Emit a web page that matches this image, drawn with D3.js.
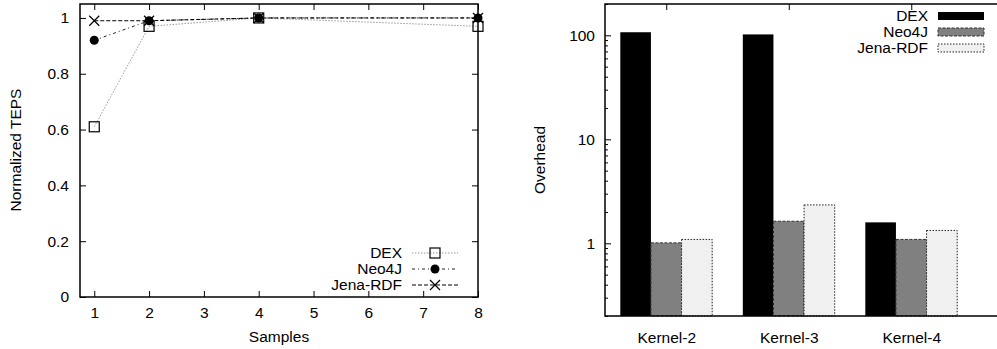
<!DOCTYPE html>
<html>
<head>
<meta charset="utf-8">
<script src="https://cdn.jsdelivr.net/npm/d3@7"></script>
<style>
  body { margin: 0; background: #fff; }
  svg { display: block; font-family: "Liberation Sans", Arial, sans-serif; }
</style>
</head>
<body>
<svg id="chart" width="997" height="349"></svg>
<script>
// left chart data
const samples = [1, 2, 4, 8];
const dexTeps = [0.61, 0.97, 1.0, 0.97];
const neoTeps = [0.92, 0.99, 1.0, 1.0];
const jenaTeps = [0.99, 0.99, 1.0, 1.0];
const xTicksLeft = [1, 2, 3, 4, 5, 6, 7, 8];
const yTicksLeft = [0, 0.2, 0.4, 0.6, 0.8, 1];

// right chart data
const kernels = ['Kernel-2', 'Kernel-3', 'Kernel-4'];
const dexOverhead = [107, 102, 1.59];
const neoOverhead = [1.01, 1.63, 1.09];
const jenaOverhead = [1.09, 2.34, 1.33];
const yTicksRight = [1, 10, 100];

const svg = d3.select('#chart');
const fontSize = '15.5px';

// ---------- left chart ----------
const x1 = d3.scaleLinear().domain([0.74, 8]).range([80, 478]);
const y1 = d3.scaleLinear().domain([0, 1.05]).range([297, 4]);

const left = svg.append('g');

// ticks (inward, mirrored)
left.append('g').attr('transform', 'translate(0,297)')
    .call(d3.axisBottom(x1).tickValues(xTicksLeft).tickSize(-6).tickPadding(10).tickFormat(d3.format('d')))
    .call(g => g.select('.domain').remove());
left.append('g').attr('transform', 'translate(0,4)')
    .call(d3.axisTop(x1).tickValues(xTicksLeft).tickSize(-6).tickFormat(''))
    .call(g => g.select('.domain').remove());
left.append('g').attr('transform', 'translate(80,0)')
    .call(d3.axisLeft(y1).tickValues(yTicksLeft).tickSize(-6).tickPadding(11).tickFormat(d => d))
    .call(g => g.select('.domain').remove());
left.append('g').attr('transform', 'translate(478,0)')
    .call(d3.axisRight(y1).tickValues(yTicksLeft).tickSize(-6).tickFormat(''))
    .call(g => g.select('.domain').remove());
left.selectAll('.tick text').attr('font-size', fontSize).attr('font-family', '"Liberation Sans", Arial, sans-serif').attr('fill', '#000');
left.selectAll('.tick line').attr('stroke', '#000');

left.append('rect').attr('x', 80).attr('y', 4).attr('width', 398).attr('height', 293)
    .attr('fill', 'none').attr('stroke', '#000').attr('stroke-width', 1.5);

const series = [
  { name: 'DEX', values: dexTeps, color: '#999', dash: '1.5,1.5', marker: 'square' },
  { name: 'Neo4J', values: neoTeps, color: '#222', dash: '3,3,1,3', marker: 'circle' },
  { name: 'Jena-RDF', values: jenaTeps, color: '#000', dash: '4,2', marker: 'cross' }
];

function drawMarker(g, type, cx, cy) {
  if (type === 'square') {
    g.append('rect').attr('x', cx - 5).attr('y', cy - 5).attr('width', 10).attr('height', 10)
      .attr('fill', '#fff').attr('fill-opacity', 0).attr('stroke', '#000').attr('stroke-width', 1.2);
  } else if (type === 'circle') {
    g.append('circle').attr('cx', cx).attr('cy', cy).attr('r', 4.5).attr('fill', '#000');
  } else {
    g.append('path').attr('d', `M${cx - 5},${cy - 5}L${cx + 5},${cy + 5}M${cx - 5},${cy + 5}L${cx + 5},${cy - 5}`)
      .attr('stroke', '#000').attr('stroke-width', 1.2);
  }
}

const line = d3.line().x(d => x1(d[0])).y(d => y1(d[1]));
series.forEach(s => {
  const pts = samples.map((v, i) => [v, s.values[i]]);
  left.append('path').attr('d', line(pts)).attr('fill', 'none')
    .attr('stroke', s.color).attr('stroke-width', 1).attr('stroke-dasharray', s.dash);
  pts.forEach(p => drawMarker(left, s.marker, x1(p[0]), y1(p[1])));
});

// left legend
series.forEach((s, i) => {
  const yy = 253 + i * 16;
  left.append('text').attr('x', 402).attr('y', yy).attr('dy', '0.35em').attr('text-anchor', 'end')
    .attr('font-size', fontSize).text(s.name);
  left.append('line').attr('x1', 412).attr('x2', 458).attr('y1', yy).attr('y2', yy)
    .attr('stroke', s.color).attr('stroke-width', 1).attr('stroke-dasharray', s.dash);
  drawMarker(left, s.marker, 435, yy);
});

left.append('text').attr('x', 279).attr('y', 337).attr('dy', '0.35em').attr('text-anchor', 'middle')
  .attr('font-size', fontSize).text('Samples');
left.append('text').attr('transform', 'translate(16,150) rotate(-90)').attr('dy', '0.35em')
  .attr('text-anchor', 'middle').attr('font-size', fontSize).text('Normalized TEPS');

// ---------- right chart ----------
const x2 = d3.scaleLinear().domain([-0.5, 2.7]).range([605, 997]);
const y2 = d3.scaleLog().domain([0.2, 200]).range([316, 4]);
const bw = (x2(1) - x2(0)) * 0.25;

const right = svg.append('g');

const minorTicks = y2.ticks().filter(d => !yTicksRight.includes(d));
right.append('g').attr('transform', 'translate(605,0)')
    .call(d3.axisLeft(y2).tickValues(yTicksRight).tickSize(-6).tickPadding(10).tickFormat(d3.format('d')))
    .call(g => g.select('.domain').remove());
right.append('g').attr('transform', 'translate(605,0)')
    .call(d3.axisLeft(y2).tickValues(minorTicks).tickSize(-3).tickFormat(''))
    .call(g => g.select('.domain').remove());
right.append('g').attr('transform', 'translate(0,4)')
    .call(d3.axisTop(x2).tickValues([0, 1, 2]).tickSize(-6).tickFormat(''))
    .call(g => g.select('.domain').remove());
right.append('g').attr('transform', 'translate(0,316)')
    .call(d3.axisBottom(x2).tickValues([0, 1, 2]).tickSize(0).tickPadding(16).tickFormat(i => kernels[i]))
    .call(g => g.select('.domain').remove());
right.selectAll('.tick text').attr('font-size', fontSize).attr('font-family', '"Liberation Sans", Arial, sans-serif').attr('fill', '#000');
right.selectAll('.tick line').attr('stroke', '#000');

const barSeries = [
  { name: 'DEX', values: dexOverhead, fill: '#000', stroke: 'none', dash: null },
  { name: 'Neo4J', values: neoOverhead, fill: '#808080', stroke: '#333', dash: '3,1.5' },
  { name: 'Jena-RDF', values: jenaOverhead, fill: '#f0f0f0', stroke: '#222', dash: '1.5,1.5' }
];

barSeries.forEach((s, si) => {
  s.values.forEach((v, i) => {
    right.append('rect')
      .attr('x', x2(i) + (si - 1.5) * bw).attr('y', y2(v))
      .attr('width', bw).attr('height', y2(0.2) - y2(v))
      .attr('fill', s.fill).attr('stroke', s.stroke).attr('stroke-width', 1)
      .attr('stroke-dasharray', s.dash);
  });
});

right.append('path').attr('d', 'M997,4H605V316H997').attr('fill', 'none')
  .attr('stroke', '#000').attr('stroke-width', 1.5);

// right legend
barSeries.forEach((s, i) => {
  const yy = 16 + i * 16;
  right.append('text').attr('x', 928).attr('y', yy).attr('dy', '0.35em').attr('text-anchor', 'end')
    .attr('font-size', fontSize).text(s.name);
  right.append('rect').attr('x', 938).attr('y', yy - 4).attr('width', 46).attr('height', 8)
    .attr('fill', s.fill).attr('stroke', s.stroke).attr('stroke-width', 1).attr('stroke-dasharray', s.dash);
});

right.append('text').attr('transform', 'translate(540,160) rotate(-90)').attr('dy', '0.35em')
  .attr('text-anchor', 'middle').attr('font-size', fontSize).text('Overhead');
</script>
</body>
</html>
